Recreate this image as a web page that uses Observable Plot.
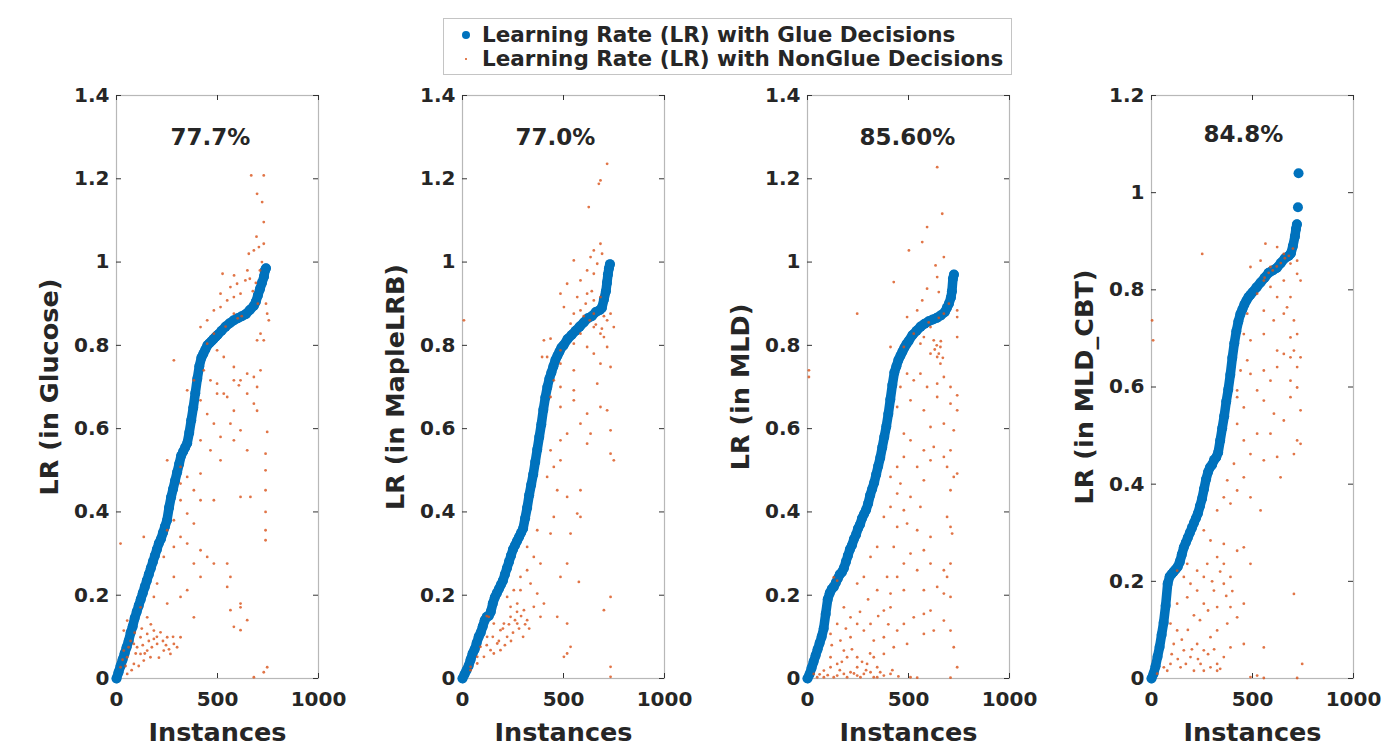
<!DOCTYPE html>
<html>
<head>
<meta charset="utf-8">
<script src="https://cdn.jsdelivr.net/npm/d3@7"></script>
<script src="https://cdn.jsdelivr.net/npm/@observablehq/plot@0.6"></script>
<style>
  html, body { margin: 0; padding: 0; background: #fff; }
  #wrap { position: relative; width: 1382px; height: 746px; overflow: hidden; font-family: "DejaVu Sans", sans-serif; }
  .panel { position: absolute; top: 0; }
  #legend { position: absolute; left: 443px; top: 18px; width: 569px; height: 57px; box-sizing: border-box;
            border: 1px solid #c4c4c4; background: #fff; color: #262626; font-weight: bold; font-size: 21.5px; }
  .row { position: absolute; left: 38px; white-space: nowrap; line-height: 24px; }
  .mk { position: absolute; border-radius: 50%; }
</style>
</head>
<body>
<div id="wrap">
  <div id="legend"></div>
</div>
<script>
// ---------------- data ----------------
const seriesNames = ["Learning Rate (LR) with Glue Decisions", "Learning Rate (LR) with NonGlue Decisions"];
const panelLabels = ["LR (in Glucose)", "LR (in MapleLRB)", "LR (in MLD)", "LR (in MLD_CBT)"];
const panelPercents = ["77.7%", "77.0%", "85.60%", "84.8%"];
const percentPos = [[465, 1.30], [460, 1.30], [495, 1.30], [455, 1.12]];
const xLabel = "Instances";
const xTicks = [0, 500, 1000];
const xTickLabels = ["0", "500", "1000"];
const yTicks14 = [0, 0.2, 0.4, 0.6, 0.8, 1, 1.2, 1.4];
const yTickLabels14 = ["0", "0.2", "0.4", "0.6", "0.8", "1", "1.2", "1.4"];
const yTicks12 = [0, 0.2, 0.4, 0.6, 0.8, 1, 1.2];
const yTickLabels12 = ["0", "0.2", "0.4", "0.6", "0.8", "1", "1.2"];

// Glue decisions: [instance, LR]
const glueGlucose = [[0,0],[10,0.015],[20,0.03],[30,0.045],[40,0.06],[50,0.075],[60,0.09],[70,0.11],[80,0.125],[90,0.145],[100,0.16],[110,0.175],[120,0.19],[130,0.205],[140,0.22],[150,0.235],[160,0.25],[170,0.265],[180,0.28],[190,0.295],[200,0.31],[210,0.325],[220,0.335],[230,0.35],[240,0.365],[250,0.38],[260,0.41],[270,0.435],[280,0.455],[290,0.475],[300,0.495],[310,0.515],[320,0.535],[330,0.545],[340,0.555],[350,0.565],[360,0.59],[370,0.62],[380,0.65],[390,0.685],[400,0.72],[410,0.75],[420,0.77],[430,0.78],[440,0.79],[450,0.8],[460,0.805],[470,0.81],[480,0.815],[490,0.82],[500,0.825],[520,0.835],[540,0.845],[560,0.853],[580,0.86],[600,0.865],[620,0.87],[640,0.875],[660,0.885],[680,0.895],[690,0.905],[700,0.92],[710,0.935],[720,0.95],[730,0.965],[735,0.98],[740,0.985]];
const glueMapleLRB = [[0,0],[10,0.01],[20,0.02],[30,0.03],[40,0.045],[50,0.06],[60,0.07],[70,0.085],[80,0.1],[90,0.11],[100,0.125],[110,0.14],[120,0.148],[130,0.15],[140,0.16],[150,0.18],[160,0.195],[170,0.205],[180,0.215],[190,0.225],[200,0.235],[210,0.25],[220,0.265],[230,0.28],[240,0.295],[250,0.31],[260,0.32],[270,0.33],[280,0.34],[290,0.35],[300,0.36],[310,0.385],[320,0.41],[330,0.44],[340,0.465],[350,0.49],[360,0.52],[370,0.55],[380,0.58],[390,0.61],[400,0.645],[410,0.675],[420,0.7],[430,0.72],[440,0.735],[450,0.75],[460,0.765],[470,0.775],[480,0.785],[490,0.795],[500,0.8],[520,0.815],[540,0.825],[560,0.835],[580,0.845],[600,0.855],[620,0.865],[640,0.87],[660,0.88],[680,0.885],[690,0.89],[700,0.91],[710,0.93],[715,0.95],[720,0.97],[725,0.985],[730,0.995]];
const glueMLD = [[0,0],[10,0.01],[20,0.025],[30,0.04],[40,0.055],[50,0.07],[60,0.085],[70,0.1],[80,0.12],[90,0.155],[100,0.19],[110,0.205],[120,0.215],[130,0.22],[140,0.23],[150,0.24],[160,0.25],[170,0.255],[180,0.265],[190,0.28],[200,0.295],[210,0.31],[220,0.32],[230,0.335],[240,0.345],[250,0.36],[260,0.37],[270,0.385],[280,0.395],[290,0.405],[300,0.42],[310,0.44],[320,0.455],[330,0.47],[340,0.49],[350,0.51],[360,0.53],[370,0.555],[380,0.58],[390,0.605],[400,0.635],[410,0.67],[420,0.705],[430,0.735],[440,0.75],[450,0.765],[460,0.775],[470,0.785],[480,0.795],[490,0.803],[500,0.81],[520,0.825],[540,0.835],[560,0.845],[580,0.852],[600,0.858],[620,0.862],[640,0.866],[660,0.872],[680,0.88],[690,0.89],[700,0.9],[710,0.915],[715,0.93],[720,0.96],[725,0.97]];
const glueMLDCBT = [[0,0],[10,0.01],[20,0.025],[30,0.045],[40,0.065],[50,0.09],[60,0.115],[70,0.15],[80,0.195],[90,0.21],[100,0.215],[110,0.22],[120,0.225],[130,0.23],[140,0.24],[150,0.255],[160,0.27],[170,0.28],[180,0.29],[190,0.3],[200,0.31],[210,0.32],[220,0.33],[230,0.34],[240,0.355],[250,0.37],[260,0.39],[270,0.41],[280,0.425],[290,0.435],[300,0.44],[310,0.45],[320,0.455],[330,0.465],[340,0.49],[350,0.515],[360,0.54],[370,0.57],[380,0.595],[390,0.625],[400,0.66],[410,0.69],[420,0.715],[430,0.735],[440,0.75],[450,0.76],[460,0.77],[470,0.778],[480,0.785],[490,0.79],[500,0.795],[520,0.805],[540,0.815],[560,0.825],[580,0.835],[600,0.84],[620,0.845],[640,0.855],[660,0.865],[680,0.87],[690,0.875],[700,0.89],[710,0.91],[715,0.925],[720,0.935]];
const glueMLDCBTTail = [[725,0.97],[728,1.04]];

// NonGlue decisions: [instance, LR]
const nonGlueGlucose = [[667,1.208],[729,1.208],[696,1.164],[721,1.144],[729,1.096],[693,1.061],[729,1.044],[705,1.036],[680,1.028],[655,1.02],[648,0.98],[582,0.968],[525,0.972],[638,0.956],[597,0.948],[564,0.94],[515,0.924],[548,0.908],[581,0.916],[614,0.924],[515,0.892],[482,0.884],[449,0.86],[416,0.844],[581,0.876],[746,0.876],[754,0.86],[713,0.828],[696,0.812],[729,0.812],[284,0.764],[482,0.828],[449,0.804],[498,0.788],[531,0.772],[581,0.748],[614,0.716],[647,0.732],[680,0.724],[713,0.74],[696,0.7],[432,0.74],[465,0.716],[498,0.708],[531,0.684],[581,0.716],[606,0.704],[647,0.684],[383,0.716],[540,0.845],[600,0.865],[620,0.87],[690,0.95],[710,0.98],[720,1.0],[660,0.96],[700,0.9],[740,0.9],[675,0.93],[350,0.692],[416,0.668],[498,0.684],[548,0.676],[581,0.643],[449,0.635],[482,0.612],[680,0.66],[696,0.643],[564,0.612],[515,0.58],[581,0.572],[416,0.572],[465,0.548],[614,0.596],[647,0.548],[515,0.524],[746,0.592],[738,0.54],[738,0.5],[738,0.452],[738,0.4],[738,0.356],[738,0.332],[251,0.524],[317,0.508],[350,0.484],[416,0.492],[317,0.468],[383,0.452],[416,0.428],[482,0.428],[614,0.436],[663,0.436],[317,0.428],[350,0.396],[383,0.372],[284,0.38],[251,0.356],[317,0.34],[350,0.324],[416,0.308],[449,0.292],[482,0.276],[383,0.276],[284,0.316],[234,0.292],[135,0.34],[20,0.324],[548,0.276],[564,0.244],[548,0.22],[416,0.244],[350,0.212],[284,0.244],[201,0.228],[317,0.196],[251,0.18],[185,0.196],[564,0.164],[614,0.18],[647,0.14],[581,0.124],[614,0.116],[86,0.083],[119,0.099],[152,0.107],[185,0.115],[218,0.111],[251,0.099],[284,0.083],[317,0.099],[119,0.059],[53,0.051],[86,0.035],[20,0.027],[53,0.011],[152,0.067],[201,0.083],[168,0.051],[234,0.067],[267,0.059],[135,0.043],[36,0.067],[102,0.075],[185,0.095],[300,0.075],[53,0.139],[119,0.171],[152,0.147],[36,0.115],[746,0.027],[729,0.015],[680,0.003],[614,0.171],[383,0.147],[70,0.09],[95,0.06],[130,0.08],[160,0.09],[200,0.1],[230,0.09],[260,0.07],[45,0.03],[75,0.02],[110,0.03],[140,0.06],[175,0.075],[210,0.05],[245,0.08],[280,0.1],[90,0.11],[60,0.075],[30,0.045],[125,0.12],[170,0.13]];
const nonGlueMapleLRB = [[716,1.236],[683,1.196],[675,1.188],[625,1.132],[683,1.044],[650,1.028],[634,1.012],[667,0.996],[691,1.02],[551,1.004],[617,0.98],[650,0.972],[584,0.956],[518,0.948],[485,0.924],[568,0.916],[617,0.924],[650,0.908],[683,0.916],[502,0.892],[551,0.876],[584,0.884],[535,0.852],[584,0.828],[650,0.844],[683,0.828],[716,0.86],[733,0.876],[650,0.876],[436,0.816],[403,0.812],[419,0.772],[485,0.788],[551,0.804],[617,0.796],[650,0.78],[716,0.796],[700,0.82],[749,0.844],[394,0.772],[485,0.756],[551,0.74],[683,0.756],[733,0.748],[667,0.708],[485,0.7],[452,0.716],[551,0.692],[7,0.86],[630,0.86],[660,0.85],[690,0.84],[700,0.87],[610,0.9],[640,0.93],[600,0.87],[436,0.676],[485,0.652],[551,0.668],[617,0.636],[683,0.652],[716,0.644],[733,0.596],[584,0.612],[518,0.588],[485,0.572],[634,0.588],[617,0.564],[733,0.54],[749,0.524],[436,0.548],[485,0.524],[452,0.508],[419,0.484],[469,0.452],[518,0.436],[584,0.452],[568,0.396],[535,0.348],[452,0.388],[436,0.348],[370,0.356],[518,0.276],[485,0.244],[584,0.388],[320,0.316],[353,0.292],[386,0.276],[320,0.26],[287,0.244],[337,0.228],[370,0.204],[403,0.18],[386,0.148],[254,0.212],[221,0.196],[271,0.18],[304,0.164],[320,0.14],[271,0.132],[238,0.148],[205,0.132],[188,0.116],[221,0.1],[172,0.084],[139,0.068],[106,0.052],[73,0.036],[40,0.02],[155,0.132],[122,0.1],[89,0.076],[155,0.06],[188,0.068],[73,0.052],[40,0.028],[469,0.148],[518,0.132],[535,0.076],[518,0.06],[502,0.052],[700,0.164],[733,0.196],[733,0.028],[733,0.004],[576,0.232],[287,0.212],[353,0.172],[238,0.172],[120,0.15],[130,0.148],[200,0.12],[230,0.13],[260,0.14],[290,0.15],[250,0.11],[280,0.12],[300,0.1],[180,0.09],[210,0.08],[150,0.1],[240,0.09],[270,0.16],[310,0.13],[330,0.12],[120,0.08]];
const nonGlueMLD = [[642,1.228],[667,1.116],[592,1.084],[568,1.048],[502,1.028],[675,1.012],[634,0.992],[427,0.952],[592,0.936],[650,0.928],[642,0.964],[568,0.908],[543,0.884],[493,0.868],[246,0.876],[741,0.884],[741,0.868],[741,0.82],[675,0.876],[609,0.844],[576,0.82],[625,0.812],[658,0.796],[609,0.78],[642,0.772],[658,0.756],[559,0.804],[526,0.828],[477,0.796],[411,0.796],[493,0.732],[526,0.716],[559,0.732],[592,0.7],[642,0.708],[675,0.724],[708,0.7],[741,0.68],[460,0.7],[7,0.74],[7,0.724],[630,0.79],[650,0.78],[660,0.81],[640,0.8],[670,0.77],[444,0.652],[510,0.668],[576,0.644],[642,0.676],[708,0.66],[741,0.644],[609,0.604],[675,0.612],[724,0.596],[477,0.588],[510,0.572],[576,0.548],[625,0.556],[675,0.532],[708,0.548],[477,0.532],[444,0.508],[543,0.508],[609,0.524],[691,0.508],[411,0.484],[460,0.468],[576,0.476],[724,0.484],[741,0.492],[708,0.452],[444,0.444],[510,0.436],[411,0.412],[477,0.404],[559,0.412],[378,0.388],[444,0.364],[493,0.372],[691,0.388],[708,0.364],[716,0.348],[543,0.356],[609,0.34],[576,0.308],[510,0.3],[427,0.316],[345,0.316],[312,0.292],[477,0.276],[543,0.26],[609,0.276],[675,0.26],[691,0.244],[708,0.276],[394,0.244],[444,0.244],[345,0.212],[411,0.204],[477,0.212],[576,0.212],[642,0.22],[675,0.204],[708,0.196],[279,0.244],[246,0.228],[180,0.171],[213,0.147],[246,0.131],[147,0.131],[114,0.107],[163,0.091],[213,0.099],[279,0.115],[312,0.131],[378,0.163],[411,0.171],[328,0.091],[378,0.099],[444,0.115],[477,0.131],[526,0.147],[576,0.155],[609,0.163],[625,0.115],[576,0.107],[493,0.083],[427,0.075],[378,0.059],[675,0.139],[708,0.115],[724,0.075],[741,0.027],[31,0.011],[48,0.003],[81,0.019],[114,0.027],[147,0.007],[180,0.011],[213,0.015],[246,0.007],[279,0.011],[312,0.015],[345,0.003],[378,0.007],[411,0.011],[81,0.003],[130,0.003],[196,0.003],[262,0.003],[328,0.003],[510,0.003],[543,0.002],[708,0.002],[246,0.027],[295,0.035],[345,0.027],[147,0.035],[196,0.051],[114,0.051],[180,0.067],[246,0.051],[328,0.051],[130,0.243],[147,0.235],[600,0.855],[650,0.866],[700,0.9],[60,0.01],[100,0.008],[160,0.02],[230,0.012],[290,0.02],[360,0.015],[420,0.02],[450,0.005],[170,0.04],[270,0.04],[310,0.06],[220,0.07],[120,0.08],[190,0.12],[260,0.16],[300,0.19],[350,0.15],[400,0.13]];
const nonGlueMLDCBT = [[251,0.874],[564,0.895],[622,0.888],[655,0.874],[540,0.86],[589,0.847],[688,0.854],[721,0.86],[738,0.819],[721,0.833],[490,0.847],[556,0.819],[589,0.806],[655,0.819],[523,0.792],[622,0.785],[671,0.764],[688,0.785],[556,0.757],[605,0.737],[655,0.751],[705,0.737],[721,0.709],[688,0.702],[474,0.751],[457,0.709],[490,0.696],[556,0.709],[622,0.675],[655,0.668],[705,0.675],[738,0.661],[721,0.641],[688,0.661],[474,0.655],[441,0.634],[490,0.627],[556,0.634],[589,0.613],[622,0.641],[688,0.613],[721,0.599],[424,0.593],[523,0.593],[3,0.737],[8,0.696],[560,0.825],[580,0.835],[600,0.84],[620,0.848],[640,0.855],[660,0.865],[680,0.87],[700,0.885],[424,0.579],[457,0.558],[556,0.572],[606,0.545],[655,0.531],[688,0.579],[738,0.552],[738,0.483],[721,0.49],[705,0.462],[424,0.524],[457,0.49],[523,0.504],[589,0.504],[490,0.462],[556,0.449],[622,0.456],[639,0.414],[540,0.346],[490,0.373],[424,0.387],[391,0.36],[457,0.414],[408,0.442],[375,0.408],[325,0.346],[358,0.373],[259,0.305],[292,0.284],[358,0.277],[325,0.25],[276,0.236],[358,0.236],[424,0.263],[457,0.27],[490,0.236],[391,0.209],[358,0.195],[309,0.181],[259,0.209],[226,0.222],[177,0.236],[127,0.222],[160,0.209],[193,0.195],[226,0.181],[177,0.167],[127,0.154],[259,0.154],[325,0.147],[391,0.147],[457,0.154],[424,0.126],[375,0.113],[325,0.099],[292,0.085],[94,0.113],[127,0.099],[110,0.071],[160,0.058],[226,0.071],[259,0.058],[193,0.044],[243,0.03],[292,0.023],[325,0.03],[358,0.044],[391,0.064],[457,0.071],[94,0.03],[61,0.023],[28,0.01],[78,0.016],[144,0.023],[210,0.016],[259,0.016],[325,0.016],[556,0.064],[705,0.174],[746,0.03],[490,0.003],[523,0.006],[556,0.001],[721,0.001],[100,0.05],[130,0.04],[170,0.03],[200,0.06],[230,0.04],[280,0.05],[310,0.06],[340,0.02],[150,0.08],[180,0.1],[210,0.13],[240,0.12],[280,0.14],[300,0.2],[340,0.22],[370,0.17],[400,0.18]];

// ---------------- styles ----------------
const BLUE = "#0072BD";
const ORANGE = "#D95319";
const TEXT = "#262626";

const panels = [
  {left: 0,    glue: glueGlucose,  tail: [], nonglue: nonGlueGlucose,  yMax: 1.4, yTicks: yTicks14, yLabels: yTickLabels14},
  {left: 346,  glue: glueMapleLRB, tail: [], nonglue: nonGlueMapleLRB, yMax: 1.4, yTicks: yTicks14, yLabels: yTickLabels14},
  {left: 691,  glue: glueMLD,      tail: [], nonglue: nonGlueMLD,      yMax: 1.4, yTicks: yTicks14, yLabels: yTickLabels14},
  {left: 1035, glue: glueMLDCBT,   tail: glueMLDCBTTail, nonglue: nonGlueMLDCBT, yMax: 1.2, yTicks: yTicks12, yLabels: yTickLabels12}
];

const W = 338, H = 746, ML = 116, MR = 20, MT = 95, MB = 68;
const FW = W - ML - MR, FH = H - MT - MB, TL = 5;
const wrap = document.getElementById("wrap");

panels.forEach((p, i) => {
  const chart = Plot.plot({
    width: W, height: H,
    marginLeft: ML, marginRight: MR, marginTop: MT, marginBottom: MB,
    style: {fontFamily: "DejaVu Sans", color: TEXT, background: "transparent", overflow: "visible"},
    x: {domain: [0, 1000]},
    y: {domain: [0, p.yMax]},
    marks: [
      Plot.frame({stroke: "#b8b8b8", strokeWidth: 1.2}),
      Plot.tickY(p.yTicks, {y: d => d, insetRight: FW - TL, stroke: "#333", strokeWidth: 1}),
      Plot.tickY(p.yTicks, {y: d => d, insetLeft: FW - TL, stroke: "#333", strokeWidth: 1}),
      Plot.tickX(xTicks, {x: d => d, insetTop: FH - TL, stroke: "#333", strokeWidth: 1}),
      Plot.tickX(xTicks, {x: d => d, insetBottom: FH - TL, stroke: "#333", strokeWidth: 1}),
      Plot.axisY(p.yTicks, {tickSize: 0, tickPadding: 7, fontSize: 20, fontWeight: "bold", fill: TEXT,
        tickFormat: d => p.yLabels[p.yTicks.indexOf(d)], label: null}),
      Plot.axisX(xTicks, {tickSize: 0, tickPadding: 13, fontSize: 20, fontWeight: "bold", fill: TEXT,
        tickFormat: d => xTickLabels[xTicks.indexOf(d)], label: null}),
      Plot.line(p.glue, {x: d => d[0], y: d => d[1], stroke: BLUE, strokeWidth: 9.5, strokeLinecap: "round", strokeLinejoin: "round"}),
      Plot.dot(p.glue.concat(p.tail), {x: d => d[0], y: d => d[1], r: 5, fill: BLUE, stroke: "none"}),
      Plot.dot(p.nonglue, {x: d => d[0], y: d => d[1], r: 1.4, fill: ORANGE, fillOpacity: 0.8, stroke: "none"}),
      Plot.text([panelPercents[i]], {x: () => percentPos[i][0], y: () => percentPos[i][1], text: d => d,
        fontSize: 23, fontWeight: "bold", fill: TEXT, textAnchor: "middle", lineAnchor: "middle"}),
      Plot.text([panelLabels[i]], {frameAnchor: "left", dx: -67, rotate: -90, text: d => d,
        fontSize: 25.5, fontWeight: "bold", fill: TEXT, textAnchor: "middle", lineAnchor: "middle"}),
      Plot.text([xLabel], {frameAnchor: "bottom", dy: 54, text: d => d,
        fontSize: 25.5, fontWeight: "bold", fill: TEXT, textAnchor: "middle", lineAnchor: "middle"})
    ]
  });
  chart.classList.add("panel");
  chart.style.left = p.left + "px";
  wrap.insertBefore(chart, document.getElementById("legend"));
});

// ---------------- legend ----------------
const legend = document.getElementById("legend");
const markers = [{color: BLUE, size: 8}, {color: ORANGE, size: 2.5}];
seriesNames.forEach((name, i) => {
  const top = i === 0 ? 4 : 28;
  const row = document.createElement("div");
  row.className = "row";
  row.style.top = top + "px";
  row.textContent = name;
  legend.appendChild(row);
  const mk = document.createElement("div");
  mk.className = "mk";
  const s = markers[i].size;
  mk.style.width = s + "px";
  mk.style.height = s + "px";
  mk.style.background = markers[i].color;
  mk.style.left = (22 - s / 2) + "px";
  mk.style.top = (top + 12 - s / 2) + "px";
  legend.appendChild(mk);
});
</script>
</body>
</html>
